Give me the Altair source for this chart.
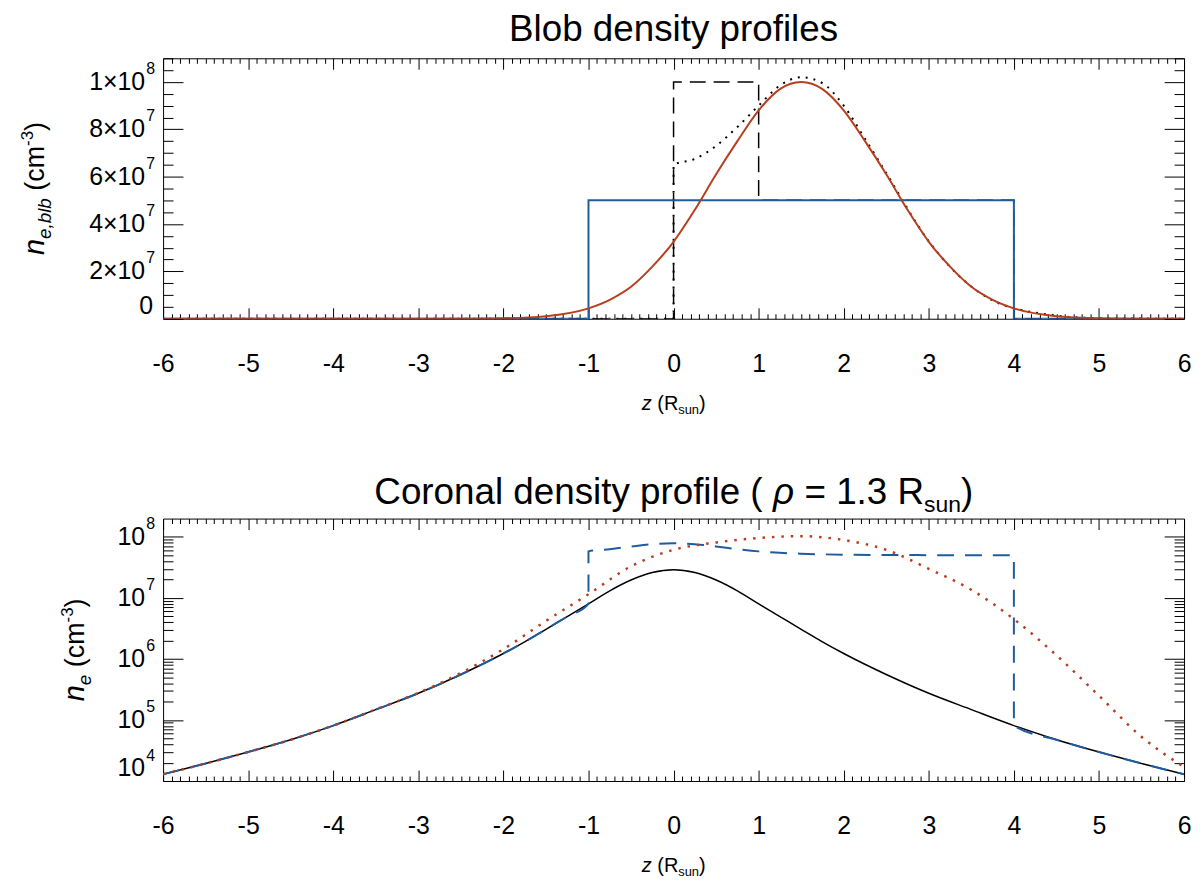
import altair as alt
import pandas as pd

FONT = "Liberation Sans"
RED = "#b73e1f"
BLUE = "#1f5c9f"

# ---- top panel: blob density profiles ----
# uniform box blob (blue)
box_z = [-6, -1, -1, 4, 4, 6]
box_ne = [0, 0, 5e7, 5e7, 0, 0]
# short uniform blob (black dashed)
cyl_z = [-6, 0, 0, 1, 1, 4, 4, 6]
cyl_ne = [0, 0, 1e8, 1e8, 5e7, 5e7, 0, 0]
# gaussian blob (red)
gauss_z = [-6, -3, -2.5, -2, -1.5, -1, -0.75, -0.5, -0.25, 0, 0.25, 0.5, 0.75, 1,
           1.25, 1.5, 1.75, 2, 2.25, 2.5, 2.75, 3, 3.25, 3.5, 3.75, 4, 4.5, 5, 5.5, 6]
gauss_ne = [0, 4e3, 3e4, 2.2e5, 1.1e6, 4.4e6, 8.0e6, 1.35e7, 2.2e7, 3.25e7, 4.6e7, 6.1e7,
            7.5e7, 8.8e7, 9.7e7, 1.0e8, 9.7e7, 8.8e7, 7.5e7, 6.1e7, 4.6e7, 3.25e7, 2.2e7,
            1.35e7, 8.0e6, 4.4e6, 1.1e6, 2.2e5, 3e4, 0]
# truncated sum (black dotted)
sum_z = [-6, 0, 0, 0.25, 0.5, 0.75, 1, 1.25, 1.5, 1.75, 2, 2.25, 2.5, 3, 3.5, 4, 5, 6]
sum_ne = [0, 0, 6.5e7, 6.75e7, 7.3e7, 8.1e7, 9.0e7, 9.85e7, 1.02e8, 9.95e7, 9.0e7, 7.6e7,
          6.15e7, 3.27e7, 1.36e7, 4.4e6, 2.2e5, 0]

# ---- bottom panel: coronal density profile ----
cor_z = [-6, -5.5, -5, -4.5, -4, -3.5, -3, -2.5, -2, -1.75, -1.5, -1.25, -1, -0.75, -0.5,
         -0.25, 0, 0.25, 0.5, 0.75, 1, 1.25, 1.5, 1.75, 2, 2.5, 3, 3.5, 4, 4.5, 5, 5.5, 6]
cor_ne = [1.29e4, 1.94e4, 2.99e4, 4.75e4, 8.1e4, 1.48e5, 2.74e5, 5.57e5, 1.23e6, 1.91e6,
          3.06e6, 4.95e6, 8.0e6, 1.31e7, 1.97e7, 2.61e7, 2.9e7, 2.61e7, 1.97e7, 1.31e7,
          8.0e6, 4.95e6, 3.06e6, 1.91e6, 1.23e6, 5.57e5, 2.74e5, 1.48e5, 8.1e4, 4.75e4,
          2.99e4, 1.94e4, 1.29e4]
# corona + box blob (blue dashed)
cbox_z = [-6, -5.5, -5, -4.5, -4, -3.5, -3, -2.5, -2, -1.75, -1.5, -1.25, -1, -1, -0.75,
          -0.5, -0.25, 0, 0.25, 0.5, 0.75, 1, 1.25, 1.5, 2, 2.5, 3, 3.5, 4, 4, 4.5, 5, 5.5, 6]
cbox_ne = [1.29e4, 1.94e4, 2.99e4, 4.75e4, 8.1e4, 1.48e5, 2.74e5, 5.57e5, 1.23e6, 1.91e6,
           3.06e6, 4.95e6, 8.0e6, 5.8e7, 6.31e7, 6.97e7, 7.61e7, 7.9e7, 7.61e7, 6.97e7,
           6.31e7, 5.8e7, 5.5e7, 5.31e7, 5.12e7, 5.06e7, 5.03e7, 5.01e7, 5.01e7, 8.1e4,
           4.75e4, 2.99e4, 1.94e4, 1.29e4]
# corona + gaussian blob (red dotted)
cgau_z = [-6, -5.5, -5, -4.5, -4, -3.5, -3, -2.5, -2, -1.5, -1, -0.5, 0, 0.5, 1, 1.5,
          2, 2.5, 3, 3.5, 4, 4.5, 5, 5.5, 6]
cgau_ne = [1.29e4, 1.94e4, 2.99e4, 4.75e4, 8.1e4, 1.49e5, 2.78e5, 5.9e5, 1.45e6, 4.2e6,
           1.15e7, 3.3e7, 6.15e7, 8.1e7, 9.6e7, 1.03e8, 8.9e7, 6.15e7, 3.0e7, 1.36e7,
           4.5e6, 1.15e6, 2.5e5, 5.3e4, 1.7e4]

# ticks and tick labels
x_major = list(range(-6, 7))
x_minor = [round(-6 + k * 0.1, 1) for k in range(121) if k % 10]
ytop_major = [0, 2e7, 4e7, 6e7, 8e7, 1e8]
ytop_minor = [k * 5e6 for k in range(1, 23) if k % 4]
ytop_main = ["0", "2×10", "4×10", "6×10", "8×10", "1×10"]
ytop_sup = ["", "7", "7", "7", "7", "8"]
ybot_major = [1e4, 1e5, 1e6, 1e7, 1e8]
ybot_minor = [m * 10 ** e for e in range(4, 9) for m in range(2, 10) if m * 10 ** e < 2e8]
ybot_main = ["10", "10", "10", "10", "10"]
ybot_sup = ["4", "5", "6", "7", "8"]

W, H_TOP, H_BOT = 1027, 262, 264

x_scale = alt.Scale(domain=[-6, 6], nice=False, zero=False)
ytop_scale = alt.Scale(domain=[0, 1.1e8], nice=False, zero=False)
ybot_scale = alt.Scale(type="log", domain=[1e4, 2e8], nice=False)


def frame(z, ne):
    return pd.DataFrame({"z": z, "ne": ne, "i": range(len(z))})


def curve(df, yscale, color, width, dash=None, interp="monotone"):
    kw = dict(color=color, strokeWidth=width, interpolate=interp, clip=True)
    if dash:
        kw["strokeDash"] = dash
    return alt.Chart(df).mark_line(**kw).encode(
        x=alt.X("z:Q", scale=x_scale, axis=None),
        y=alt.Y("ne:Q", scale=yscale, axis=None),
        order="i:Q",
    )


def tick_axis(orient, values, size):
    return alt.Axis(orient=orient, values=values, offset=-size, tickSize=size,
                    labels=False, domain=False, grid=False, title=None,
                    tickColor="black", tickWidth=1)


def axis_layer(df, yscale, xaxis, yaxis):
    return alt.Chart(df).mark_line(strokeOpacity=0).encode(
        x=alt.X("z:Q", scale=x_scale, axis=xaxis),
        y=alt.Y("ne:Q", scale=yscale, axis=yaxis),
    )


def piece(text, x, y, size, dx=0, dy=0, angle=0, italic=False, align="left"):
    return alt.Chart(pd.DataFrame({"t": [text]})).mark_text(
        font=FONT, fontSize=size, fontStyle="italic" if italic else "normal",
        angle=angle, align=align, baseline="alphabetic", dx=dx, dy=dy, color="black",
    ).encode(text="t:N", x=alt.value(x), y=alt.value(y))


x_label_axis = alt.Axis(orient="bottom", values=x_major, labelExpr="'' + datum.value",
                        labelFont=FONT, labelFontSize=25, labelColor="black",
                        labelPadding=33, labelFlush=False, ticks=False, tickSize=0,
                        domain=False, grid=False, title=None)

y_blank_axis = alt.Axis(orient="left", labels=False, ticks=False, tickSize=0,
                        domain=False, grid=False, title=None, minExtent=150)


def y_labels(values, main, sup, yscale):
    # tick labels with real superscripts; the lowest one sits flush on the axis end
    df = pd.DataFrame({"v": values, "main": main, "sup": sup})
    low, rest = df.iloc[:1], df.iloc[1:]
    y = alt.Y("v:Q", scale=yscale, axis=None)
    main_x = -18 if low["sup"].iloc[0] else -10
    return [
        alt.Chart(rest).mark_text(font=FONT, fontSize=25, align="right", baseline="middle",
                                  color="black")
        .encode(text="main:N", x=alt.value(-18), y=y),
        alt.Chart(rest).mark_text(font=FONT, fontSize=16, align="left", baseline="alphabetic",
                                  dx=1, dy=-8, color="black")
        .encode(text="sup:N", x=alt.value(-18), y=y),
        alt.Chart(low).mark_text(font=FONT, fontSize=25, align="right", baseline="bottom",
                                 color="black")
        .encode(text="main:N", x=alt.value(main_x), y=y),
        alt.Chart(low).mark_text(font=FONT, fontSize=16, align="left", baseline="alphabetic",
                                 dx=1, dy=-20, color="black")
        .encode(text="sup:N", x=alt.value(-18), y=y),
    ]


def axes(df, yscale, y_major, y_minor):
    return [
        axis_layer(df, yscale, x_label_axis, y_blank_axis),
        axis_layer(df, yscale, tick_axis("bottom", x_major, 11), tick_axis("left", y_major, 20)),
        axis_layer(df, yscale, tick_axis("bottom", x_minor, 5), tick_axis("left", y_minor, 10)),
        axis_layer(df, yscale, tick_axis("top", x_major, 11), tick_axis("right", y_major, 20)),
        axis_layer(df, yscale, tick_axis("top", x_minor, 5), tick_axis("right", y_minor, 10)),
    ]


def x_title(h):
    x0, y0 = W / 2 - 32, h + 92
    return [
        piece("z", x0, y0, 20, italic=True),
        piece("(R", x0, y0, 20, dx=15.6),
        piece("sun", x0, y0, 13, dx=36.7, dy=4),
        piece(")", x0, y0, 20, dx=57.7),
    ]


def y_title(x0, h, sub, sub_w):
    # rotated title read bottom to top
    total = 16.1 + sub_w + 52.5 + 15.1 + 9
    y0 = h / 2 + total / 2
    d = 0
    out = [piece("n", x0, y0, 29, angle=270, italic=True)]
    d += 16.1
    out.append(piece(sub, x0, y0, 19, dx=d, dy=7, angle=270, italic=True))
    d += sub_w + 7.5
    out.append(piece("(cm", x0, y0, 27, dx=d, angle=270))
    d += 45
    out.append(piece("-3", x0, y0, 17, dx=d, dy=-11, angle=270))
    d += 15.1
    out.append(piece(")", x0, y0, 27, dx=d, angle=270))
    return out


gauss_df = frame(gauss_z, gauss_ne)
top = alt.layer(
    curve(frame(cyl_z, cyl_ne), ytop_scale, "black", 1.5, dash=[16, 8], interp="linear"),
    curve(frame(sum_z, sum_ne), ytop_scale, "black", 2, dash=[2, 6]),
    curve(frame(box_z, box_ne), ytop_scale, BLUE, 2, interp="linear"),
    curve(gauss_df, ytop_scale, RED, 2),
    *axes(gauss_df, ytop_scale, ytop_major, ytop_minor),
    *y_labels(ytop_major, ytop_main, ytop_sup, ytop_scale),
    piece("Blob density profiles", W / 2, -17, 37, align="center"),
    *x_title(H_TOP),
    *y_title(-120, H_TOP, "e,blb", 41.2),
).resolve_axis(x="independent", y="independent").properties(width=W, height=H_TOP)

cor_df = frame(cor_z, cor_ne)
tx0 = W / 2 - 301
bottom = alt.layer(
    curve(cor_df, ybot_scale, "black", 1.5),
    curve(frame(cbox_z, cbox_ne), ybot_scale, BLUE, 2, dash=[17, 11]),
    curve(frame(cgau_z, cgau_ne), ybot_scale, RED, 2.5, dash=[2.5, 7]),
    *axes(cor_df, ybot_scale, ybot_major, ybot_minor),
    *y_labels(ybot_major, ybot_main, ybot_sup, ybot_scale),
    piece("Coronal density profile (", tx0, -14.5, 37),
    piece("ρ", tx0, -14.5, 37, dx=401, italic=True),
    piece("= 1.3 R", tx0, -14.5, 37, dx=432.7),
    piece("sun", tx0, -14.5, 23, dx=553, dy=8),
    piece(")", tx0, -14.5, 37, dx=590.1),
    *x_title(H_BOT),
    *y_title(-80, H_BOT, "e", 10.6),
).resolve_axis(x="independent", y="independent").properties(width=W, height=H_BOT)

chart = alt.vconcat(top, bottom, spacing=201, bounds="flush").properties(
    padding={"left": 5, "top": 0, "right": 0, "bottom": 0}
).configure_view(stroke="black", strokeWidth=1)

chart.save("out.html", embed_options={"renderer": "svg", "actions": False})
